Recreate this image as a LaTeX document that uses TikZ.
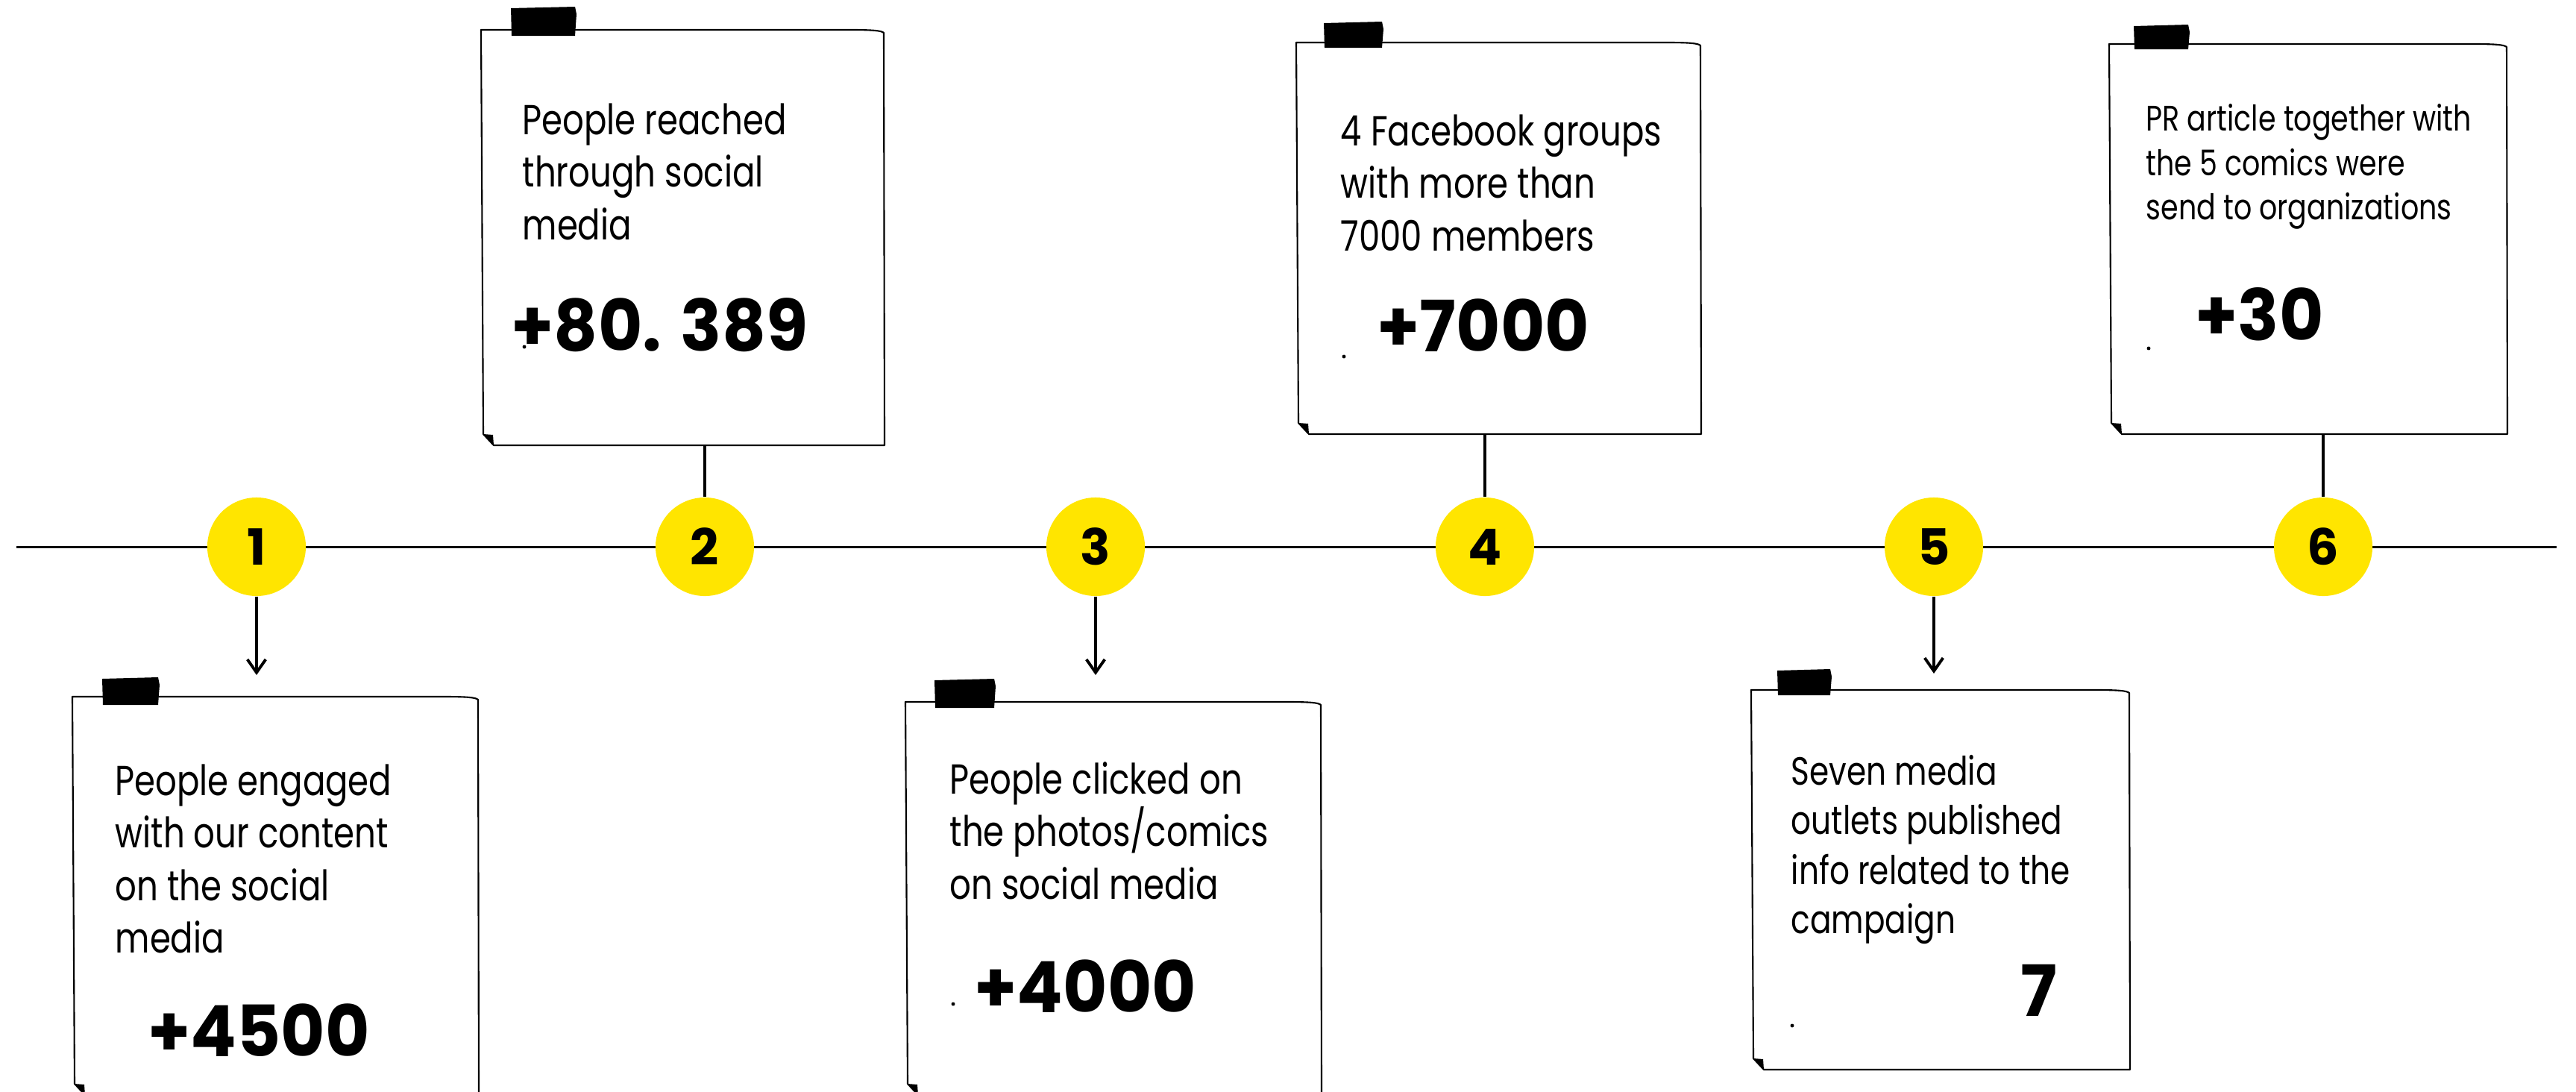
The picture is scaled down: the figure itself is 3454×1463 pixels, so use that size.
\documentclass[tikz,border=0pt]{standalone}
\usepackage{fontspec}
\setmainfont{Poppins}
\newfontfamily\bodyfont[FakeStretch=0.8]{Poppins}
\newfontfamily\numfont[FakeStretch=0.96]{Poppins}
\usetikzlibrary{arrows.meta,fit}
\definecolor{dotyellow}{HTML}{FFE500}
\tikzset{
 cardline/.style={draw=black, line width=0.6pt, fill=white, line join=round},
 milestone/.style={circle, fill=dotyellow, minimum size=1.32cm, inner sep=0pt, font=\fontsize{19}{19}\selectfont\bfseries},
 axisline/.style={line width=0.85pt},
 stem/.style={line width=1.1pt},
 pointer/.style={line width=1.1pt, -{Straight Barb[length=5pt,width=7pt,line width=1.1pt]}},
 body/.style={anchor=north west, align=left, inner sep=0pt, font=\bodyfont\fontsize{16}{20}\selectfont},
 figure/.style={anchor=west, inner sep=0pt, font=\numfont\fontsize{27}{27}\selectfont\bfseries},
 cardbox/.style={inner sep=0pt},
}
\newcommand\notecard[5]{%
 \path (#2,#3) coordinate (#1nw) (#4,#5) coordinate (#1se);
 \node[cardbox, fit=(#1nw)(#1se)] (#1) {};
 \draw[cardline] (#2,#3) -- ({#4-45},#3) .. controls ({#4-15},#3) and ({#4-3},{#3+1}) .. (#4,{#3+4}) -- ({#4+1},#5) -- ({#2+17},#5) -- ({#2+3},{#5-15}) -- cycle;
 \fill ({#2+3},{#5-15}) -- ({#2+16},{#5-14}) -- ({#2+17},#5) -- cycle;
}
\newcommand\tapestrip[4]{%
 \fill (#1,{#2+2}) -- ({#3-2},#2) -- (#3,{#2+10}) -- ({#3-2},#4) -- ({#1+1},#4) -- cycle;
}
\begin{document}
\begin{tikzpicture}[x=0.01cm,y=-0.01cm]
\useasboundingbox (0,0) rectangle (3454,1463);
\coordinate (tl) at (22,733);
\coordinate (tr) at (3428,733);
\draw[axisline] (tl) -- (tr);

\notecard{c1}{97}{934}{641}{1468}
\notecard{c2}{645}{40}{1185}{597}
\notecard{c3}{1214}{941}{1771}{1468}
\notecard{c4}{1738}{57}{2280}{582}
\notecard{c5}{2348}{925}{2855}{1434}
\notecard{c6}{2828}{59}{3361}{582}

\tapestrip{137}{908}{214}{945}
\tapestrip{685}{9}{773}{48}
\tapestrip{1253}{910}{1335}{949}
\tapestrip{1775}{29}{1855}{64}
\tapestrip{2383}{897}{2456}{932}
\tapestrip{2861}{33}{2936}{66}

\node[milestone] (n1) at (344,733) {1};
\node[milestone] (n2) at (945,733) {2};
\node[milestone] (n3) at (1469,733) {3};
\node[milestone] (n4) at (1991,733) {4};
\node[milestone] (n5) at (2593,733) {5};
\node[milestone] (n6) at (3115,733) {6};

\coordinate (a1) at (344,905);
\coordinate (a3) at (1469,905);
\coordinate (a5) at (2593,903);
\draw[pointer] (n1) -- (a1);
\draw[pointer] (n3) -- (a3);
\draw[pointer] (n5) -- (a5);
\draw[stem] (n2) -- (n2 |- c2.south);
\draw[stem] (n4) -- (n4 |- c4.south);
\draw[stem] (n6) -- (n6 |- c6.south);

\node[body] (t1) at (154,1024) {People engaged\\with our content\\on the social\\media};
\node[figure] (v1) at (198,1381) {+4500};
\node[body] (t2) at (700,138) {People reached\\through social\\media};
\node[figure] (v2) at (685,436) {+80. 389};
\node[body] (t3) at (1273,1021) {People clicked on\\the photos/comics\\on social media};
\node[figure] (v3) at (1306,1322) {+4000};
\node[body] (t4) at (1797,153) {4 Facebook groups\\with more than\\7000 members};
\node[figure] (v4) at (1846,436) {+7000};
\node[body, font=\bodyfont\fontsize{15}{18.8}\selectfont] (t5) at (2401,1012) {Seven media\\outlets published\\info related to the\\campaign};
\node[figure] (v5) at (2709,1328) {7};
\node[body, font=\bodyfont\fontsize{13.5}{16.9}\selectfont] (t6) at (2877,139) {PR article together with\\the 5 comics were\\send to organizations};
\node[figure] (v6) at (2943,421) {+30};

\fill (703,465) circle (0.7pt);
\fill (1278,1346) circle (0.7pt);
\fill (1802,478) circle (0.7pt);
\fill (2403,1375) circle (0.7pt);
\fill (2881,467) circle (0.7pt);
\end{tikzpicture}
\end{document}
